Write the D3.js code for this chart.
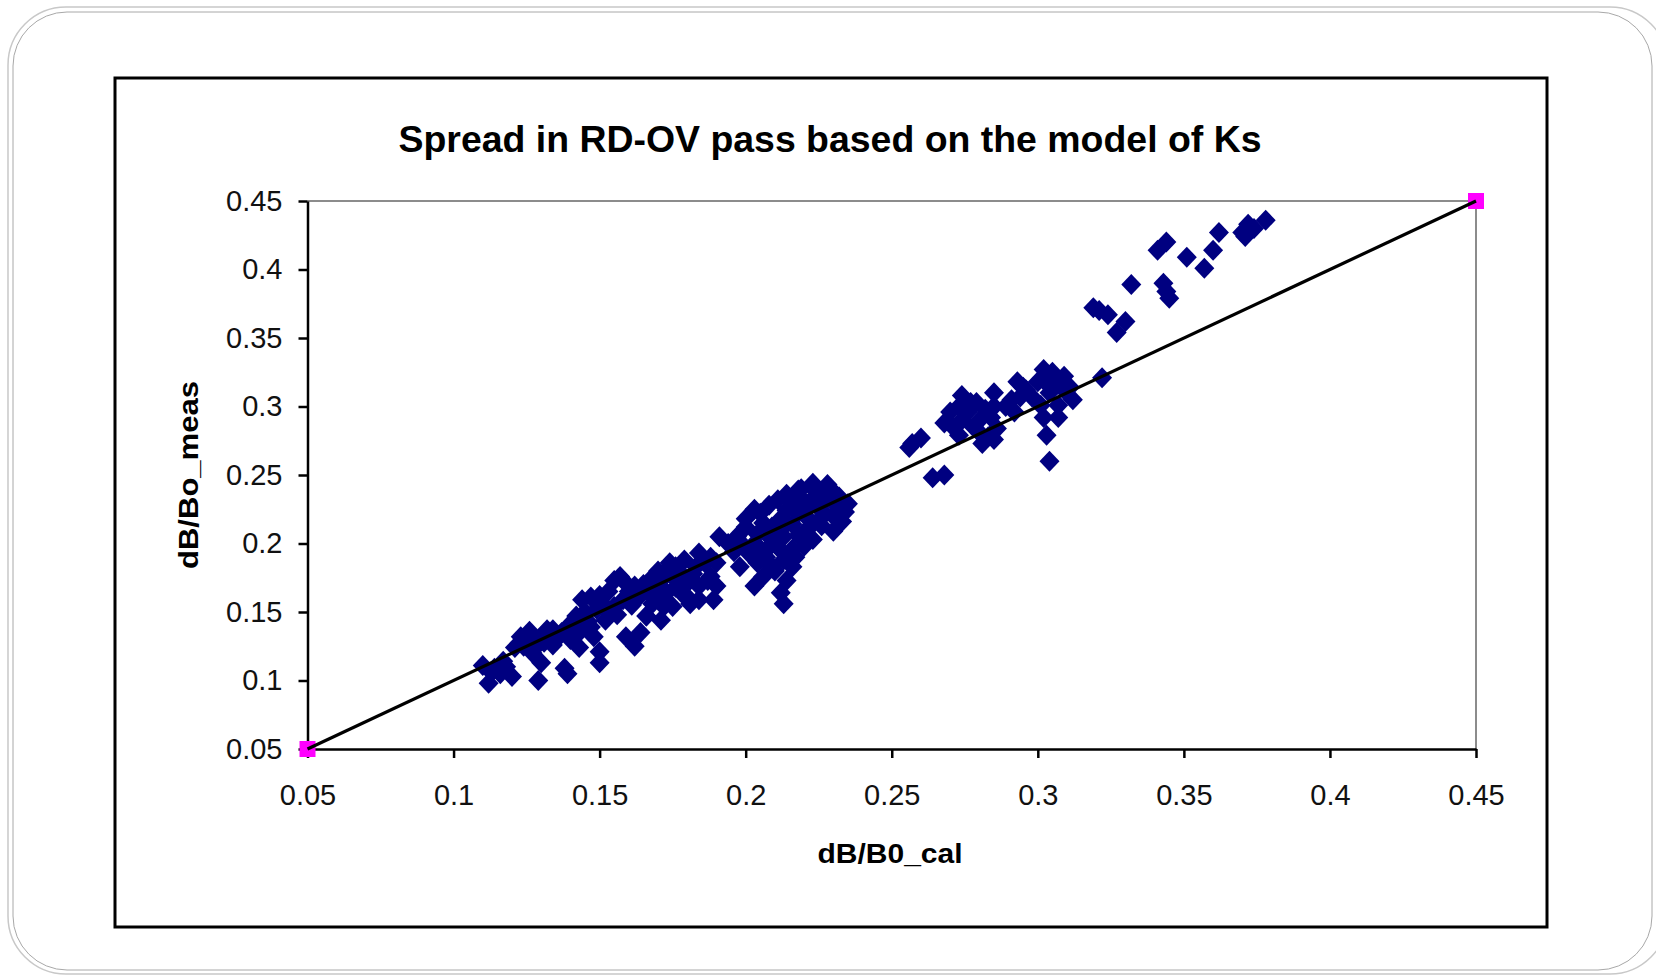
<!DOCTYPE html>
<html>
<head>
<meta charset="utf-8">
<script src="https://cdn.jsdelivr.net/npm/d3@7"></script>
<style>
  html, body { margin: 0; padding: 0; background: #ffffff; }
  svg { display: block; }
</style>
</head>
<body>
<script>
// ---------- data ----------
const chartTitle = "Spread in RD-OV pass based on the model of Ks";
const xTitle = "dB/B0_cal";
const yTitle = "dB/Bo_meas";

const xTickValues = [0.05, 0.1, 0.15, 0.2, 0.25, 0.3, 0.35, 0.4, 0.45];
const xTickLabels = ["0.05", "0.1", "0.15", "0.2", "0.25", "0.3", "0.35", "0.4", "0.45"];
const yTickValues = [0.05, 0.1, 0.15, 0.2, 0.25, 0.3, 0.35, 0.4, 0.45];
const yTickLabels = ["0.05", "0.1", "0.15", "0.2", "0.25", "0.3", "0.35", "0.4", "0.45"];

// measured vs calculated (series 1, navy diamonds)
const xCal = [
  0.319,0.321,0.324,0.327,0.330,0.332,0.341,0.344,0.343,0.344,0.345,0.351,0.357,0.360,0.362,0.370,0.371,0.372,0.374,0.378,
  0.257,0.256,0.260,0.264,0.268,0.268,0.270,0.274,0.273,0.273,0.274,0.279,0.280,0.280,0.281,0.283,0.285,0.285,0.286,0.285,
  0.293,0.294,0.292,0.295,0.302,0.303,0.305,0.309,0.302,0.301,0.303,0.307,0.304,0.311,0.312,0.307,0.304,0.322,
  0.276,0.278,0.289,0.291,0.298,0.300,0.306,0.309,0.296,0.282,0.271,0.277,0.284,
  0.218,0.223,0.228,0.232,0.235,0.233,0.230,0.225,0.221,0.215,0.218,0.223,0.220,0.213,0.216,0.214,0.212,0.213,0.207,0.205,
  0.200,0.197,0.203,0.207,0.209,0.204,0.203,0.198,0.191,0.194,0.212,0.218,0.225,0.228,0.210,0.206,0.216,0.222,
  0.200,0.203,0.208,0.211,0.214,0.219,0.224,0.229,0.231,0.227,0.221,0.216,0.213,0.209,0.204,0.199,0.207,0.212,0.217,0.220,
  0.226,0.230,0.234,0.210,0.206,0.196,0.201,
  0.212,0.217,0.208,0.222,0.214,0.219,0.205,0.226,
  0.174,0.179,0.184,0.188,0.175,0.171,0.167,0.182,0.187,0.189,0.190,0.178,0.172,0.166,0.171,0.184,0.181,
  0.110,0.113,0.112,0.116,0.118,0.120,0.123,0.126,0.124,0.127,0.130,0.129,0.130,0.132,0.138,0.139,0.143,0.150,0.150,0.142,
  0.144,0.147,0.149,0.151,0.155,0.157,0.159,0.162,0.158,0.155,0.152,0.147,0.148,0.143,0.139,0.134,0.159,0.162,0.164,0.166,
  0.168,0.170,0.173,0.173,0.175,0.180,0.184,0.190,0.188,
  0.145,0.150,0.153,0.160,0.163,0.165,0.168,0.170,0.176,0.178,0.183,0.186,0.180,0.176,0.169,0.161,0.156,0.153,0.146,0.141,
  0.136,0.131,0.128,0.125,0.121,0.117,0.114,0.134,0.137,0.140
];
const yMeas = [
  0.372,0.370,0.367,0.354,0.362,0.389,0.414,0.420,0.390,0.384,0.379,0.409,0.401,0.414,0.427,0.427,0.424,0.433,0.430,0.436,
  0.273,0.270,0.277,0.248,0.250,0.288,0.296,0.308,0.300,0.279,0.290,0.303,0.290,0.281,0.273,0.278,0.310,0.300,0.284,0.276,
  0.318,0.307,0.296,0.314,0.327,0.317,0.325,0.322,0.292,0.301,0.279,0.292,0.310,0.314,0.305,0.301,0.260,0.321,
  0.296,0.285,0.300,0.305,0.307,0.318,0.319,0.312,0.312,0.298,0.285,0.303,0.292,
  0.239,0.244,0.243,0.234,0.229,0.216,0.209,0.217,0.229,0.232,0.222,0.203,0.198,0.188,0.183,0.173,0.164,0.156,0.208,0.222,
  0.212,0.205,0.200,0.195,0.183,0.186,0.169,0.183,0.205,0.200,0.210,0.206,0.226,0.235,0.200,0.215,0.196,0.212,
  0.218,0.225,0.228,0.232,0.236,0.240,0.238,0.240,0.228,0.222,0.219,0.214,0.205,0.212,0.207,0.199,0.190,0.195,0.190,0.208,
  0.213,0.220,0.223,0.180,0.176,0.194,0.193,
  0.218,0.226,0.205,0.230,0.224,0.233,0.196,0.232,
  0.186,0.188,0.193,0.190,0.176,0.173,0.164,0.178,0.173,0.159,0.169,0.164,0.154,0.147,0.144,0.159,0.156,
  0.111,0.106,0.098,0.105,0.110,0.103,0.132,0.136,0.125,0.120,0.113,0.100,0.132,0.137,0.109,0.105,0.124,0.121,0.113,0.147,
  0.159,0.161,0.152,0.156,0.173,0.176,0.171,0.169,0.159,0.154,0.144,0.139,0.132,0.135,0.139,0.137,0.132,0.125,0.135,0.147,
  0.156,0.169,0.181,0.164,0.154,0.161,0.169,0.186,0.176,
  0.150,0.162,0.165,0.165,0.160,0.170,0.175,0.180,0.183,0.178,0.183,0.186,0.171,0.168,0.161,0.155,0.148,0.150,0.143,0.141,
  0.132,0.128,0.124,0.129,0.124,0.114,0.109,0.126,0.135,0.130
];

// reference (series 2): equality line end points
const refX = [0.05, 0.45];
const refY = [0.05, 0.45];

// ---------- drawing ----------
const W = 1656, H = 975;
const svg = d3.select("body").append("svg").attr("width", W).attr("height", H);

// outer rounded slide frame (double thin grey line)
svg.append("rect").attr("x", 8).attr("y", 7).attr("width", 1660).attr("height", 967)
  .attr("rx", 58).attr("ry", 58).attr("fill", "none").attr("stroke", "#c8c8c8").attr("stroke-width", 1.5);
svg.append("rect").attr("x", 13).attr("y", 12).attr("width", 1639).attr("height", 958)
  .attr("rx", 54).attr("ry", 54).attr("fill", "none").attr("stroke", "#a8a8a8").attr("stroke-width", 1);

// chart area frame
svg.append("rect").attr("x", 115).attr("y", 78).attr("width", 1432).attr("height", 849)
  .attr("fill", "#fff").attr("stroke", "#000").attr("stroke-width", 3);

const x = d3.scaleLinear().domain([0.05, 0.45]).range([307.5, 1476]);
const y = d3.scaleLinear().domain([0.05, 0.45]).range([749, 201]);

// plot area top / right border (grey)
svg.append("path")
  .attr("d", `M${x(0.05)},${y(0.45)}H${x(0.45)}V${y(0.05)}`)
  .attr("fill", "none").attr("stroke", "#8c8c8c").attr("stroke-width", 2);

// title
svg.append("text").attr("x", 830).attr("y", 152).attr("text-anchor", "middle")
  .attr("font-family", "'Liberation Sans', Arial, sans-serif").attr("font-weight", "bold")
  .attr("font-size", 37).attr("textLength", 863).attr("lengthAdjust", "spacingAndGlyphs")
  .attr("fill", "#000").text(chartTitle);

// axes
const xAxis = d3.axisBottom(x).tickValues(xTickValues).tickSizeInner(9).tickSizeOuter(0)
  .tickPadding(26).tickFormat((d, i) => xTickLabels[i]);
const yAxis = d3.axisLeft(y).tickValues(yTickValues).tickSizeInner(9).tickSizeOuter(0)
  .tickPadding(16).tickFormat((d, i) => yTickLabels[i]);

const gx = svg.append("g").attr("transform", `translate(0,${y(0.05)})`).call(xAxis);
const gy = svg.append("g").attr("transform", `translate(${x(0.05)},0)`).call(yAxis);
[gx, gy].forEach(g => {
  g.select(".domain").attr("stroke", "#000").attr("stroke-width", 2.5);
  g.selectAll(".tick line").attr("stroke", "#000").attr("stroke-width", 2.5);
  g.selectAll(".tick text").attr("fill", "#111")
    .attr("font-family", "'Liberation Sans', Arial, sans-serif").attr("font-size", 29);
});

// axis titles
svg.append("text").attr("x", 890).attr("y", 863).attr("text-anchor", "middle")
  .attr("font-family", "'Liberation Sans', Arial, sans-serif").attr("font-weight", "bold")
  .attr("font-size", 28).attr("textLength", 145).attr("lengthAdjust", "spacingAndGlyphs")
  .text(xTitle);
svg.append("text").attr("transform", "translate(198,475) rotate(-90)").attr("text-anchor", "middle")
  .attr("font-family", "'Liberation Sans', Arial, sans-serif").attr("font-weight", "bold")
  .attr("font-size", 28).attr("textLength", 188).attr("lengthAdjust", "spacingAndGlyphs")
  .text(yTitle);

// diamond symbol (square rotated 45deg, ~20 x 21 px)
const diamond = {
  draw(ctx, size) {
    const w = Math.sqrt(size) * 0.5, h = w * 1.05;
    ctx.moveTo(0, -h); ctx.lineTo(w, 0); ctx.lineTo(0, h); ctx.lineTo(-w, 0); ctx.closePath();
  }
};
const pts = xCal.map((v, i) => [v, yMeas[i]]);
svg.append("g").selectAll("path").data(pts).join("path")
  .attr("transform", d => `translate(${x(d[0])},${y(d[1])})`)
  .attr("d", d3.symbol().type(diamond).size(20 * 20))
  .attr("fill", "#000080");

// reference series: magenta squares + black line
const refPts = refX.map((v, i) => [v, refY[i]]);
svg.append("g").selectAll("path").data(refPts).join("path")
  .attr("transform", d => `translate(${x(d[0])},${y(d[1])})`)
  .attr("d", d3.symbol().type(d3.symbolSquare).size(16 * 16))
  .attr("fill", "#ff00ff");
svg.append("path").datum(refPts)
  .attr("d", d3.line().x(d => x(d[0])).y(d => y(d[1])))
  .attr("fill", "none").attr("stroke", "#000").attr("stroke-width", 3.2);
</script>
</body>
</html>
